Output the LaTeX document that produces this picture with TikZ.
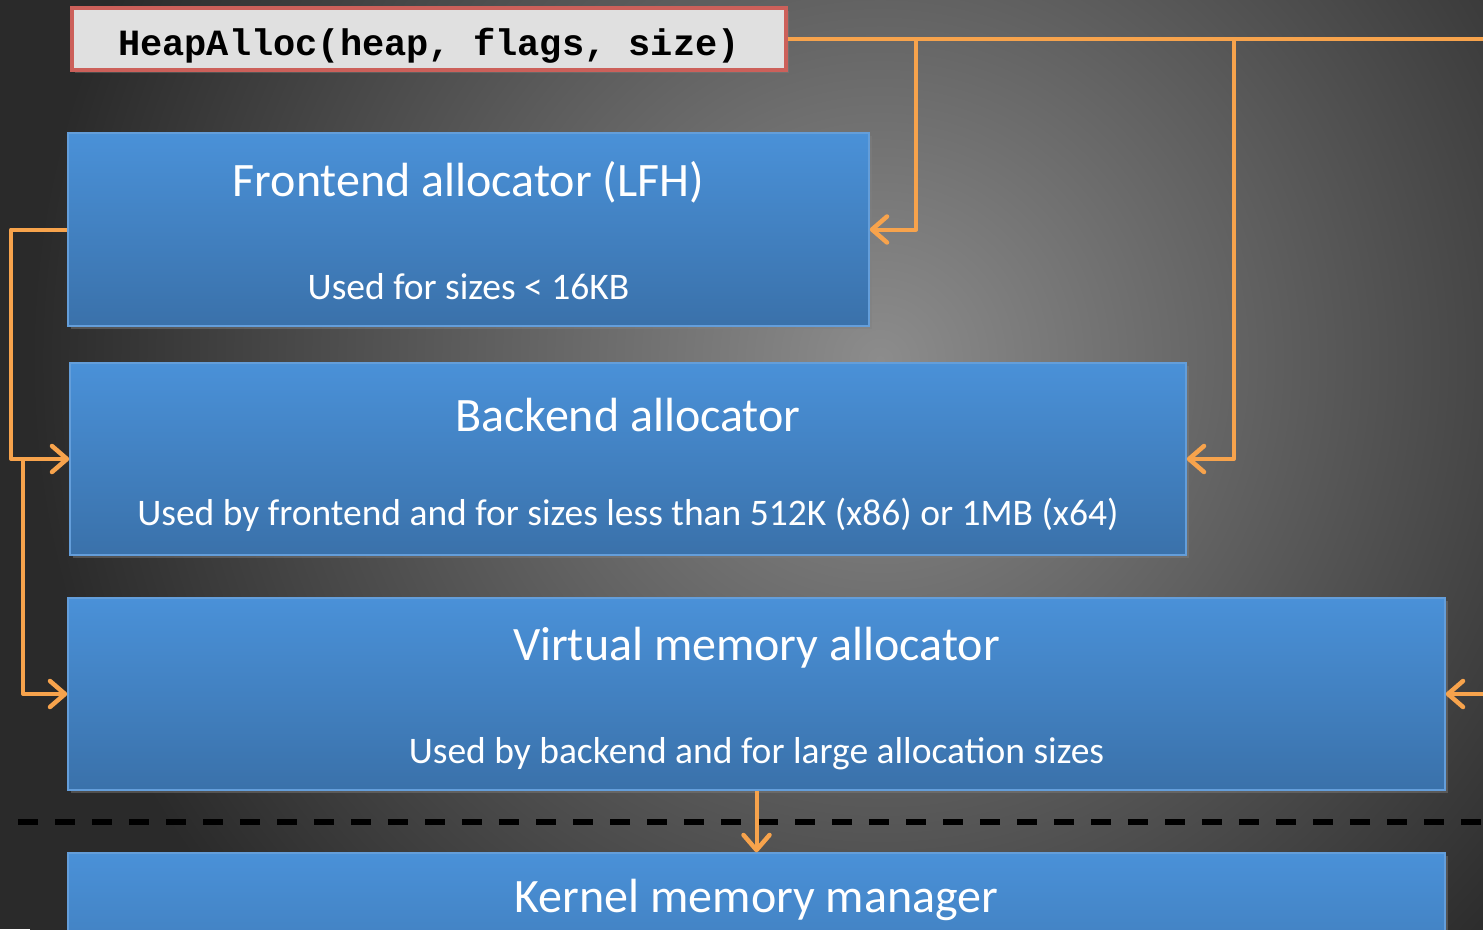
\documentclass[tikz,border=0pt]{standalone}
\usepackage{fontspec}
\setmainfont{Carlito}
\newfontfamily\codefont{Liberation Mono}
\usetikzlibrary{arrows.meta,shadows}
\definecolor{bgcenter}{RGB}{140,140,140}
\definecolor{bgouter}{RGB}{42,42,42}
\definecolor{boxtop}{RGB}{74,145,216}
\definecolor{boxbottom}{RGB}{58,113,170}
\definecolor{boxline}{RGB}{100,158,218}
\definecolor{wireorange}{RGB}{247,163,76}
\definecolor{heapfill}{RGB}{224,224,224}
\definecolor{heapline}{RGB}{204,96,90}
\begin{document}
\begin{tikzpicture}[x=1pt,y=-1pt,
  box/.style={draw=boxline,line width=1.5pt,top color=boxtop,bottom color=boxbottom,
    inner sep=0pt,drop shadow={shadow xshift=3pt,shadow yshift=-3pt,opacity=0.45}},
  title/.style={anchor=base,text=white,font=\fontsize{48}{56}\selectfont},
  sub/.style={anchor=base,text=white,font=\fontsize{37.5}{44}\selectfont},
  wire/.style={draw=wireorange,line width=4pt,line join=round},
  arrowed/.style={-{Straight Barb[length=15pt,width=26pt,line width=4.5pt,line cap=round,line join=round]}}]
  \useasboundingbox (0,0) rectangle (1483,929);
  \clip (0,0) rectangle (1483,929);
  \fill [bgouter] (0,0) rectangle (1483,929);
  \shade [inner color=bgcenter,outer color=bgouter] (30,-490) rectangle (1730,1210);
  % call
  \node [draw=heapline,line width=4pt,fill=heapfill,minimum width=714pt,minimum height=62pt,
    inner sep=0pt,drop shadow={shadow xshift=3pt,shadow yshift=-3pt,opacity=0.4}] (heap) at (429,39) {};
  \node [anchor=base,font=\codefont\bfseries\fontsize{37}{44}\selectfont] (heaptext) at (429,55)
    {HeapAlloc(heap, flags, size)};
  % allocators
  \node [box,minimum width=801pt,minimum height=193pt] (front) at (468.5,229.5) {};
  \node [box,minimum width=1116pt,minimum height=192pt] (back) at (628,459) {};
  \node [box,minimum width=1377pt,minimum height=192pt] (virt) at (756.5,694) {};
  \node [box,minimum width=1377pt,minimum height=192pt] (kern) at (756.5,949) {};
  \node [title] (fronttitle) at (468.5,196) {Frontend allocator (LFH)};
  \node [sub] (frontsub) at (468.5,299) {Used for sizes < 16KB};
  \node [title] (backtitle) at (628,431) {Backend allocator};
  \node [sub] (backsub) at (628,525) {Used by frontend and for sizes less than 512K (x86) or 1MB (x64)};
  \node [title] (virttitle) at (756.5,660) {Virtual memory allocator};
  \node [sub] (virtsub) at (756.5,763) {Used by backend and for large allocation sizes};
  \node [title] (serntitle) at (756.5,912) {Kernel memory manager};
  % user / kernel
  \coordinate (sepl) at (18,822);
  \coordinate (sepr) at (1483,822);
  \draw [line width=6pt,dash pattern=on 20pt off 17pt] (sepl) -- (sepr);
  % connectors
  \coordinate (b1) at (916,39);
  \coordinate (b2) at (1234,39);
  \coordinate (edge) at (1500,39);
  \coordinate (l1) at (11,229.5);
  \coordinate (l2) at (23,459);
  \draw [wire,arrowed] (heap.east) -- (edge) |- (virt.east);
  \draw [wire,arrowed] (b1) |- (front.east);
  \draw [wire,arrowed] (b2) |- (back.east);
  \draw [wire,arrowed] (front.west) -- (l1) |- (back.west);
  \draw [wire,arrowed] (l2) |- (virt.west);
  \draw [wire,arrowed] (virt.south) -- (kern.north);
\end{tikzpicture}
\end{document}
